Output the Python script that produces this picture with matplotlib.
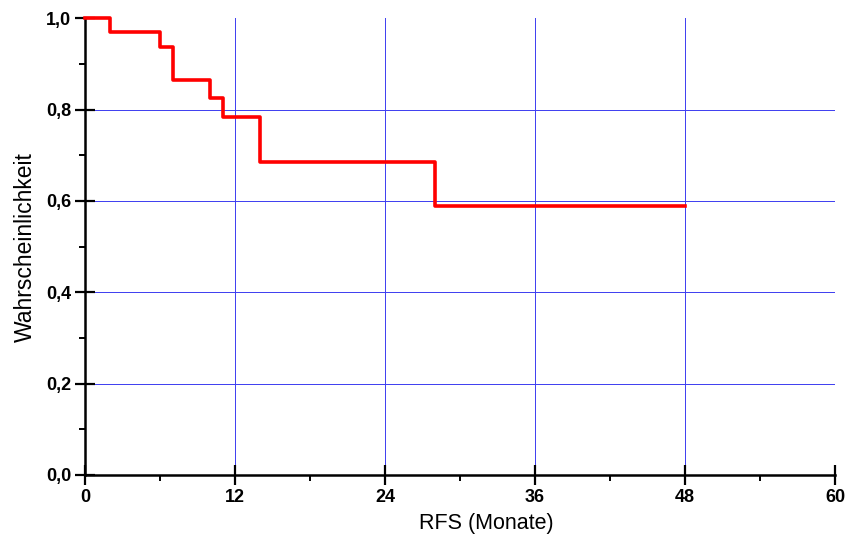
import matplotlib
matplotlib.use("Agg")
import matplotlib.pyplot as plt
from matplotlib.ticker import MultipleLocator, FuncFormatter

# Kaplan-Meier steps
months = [0, 2, 6, 7, 10, 11, 14, 28, 48]
survival = [1.0, 0.969, 0.9375, 0.865, 0.826, 0.784, 0.686, 0.589, 0.589]

x_ticks = [0, 12, 24, 36, 48, 60]
y_ticks = [0.0, 0.2, 0.4, 0.6, 0.8, 1.0]

plt.rcParams["font.family"] = ["Liberation Sans", "DejaVu Sans"]

fig = plt.figure(figsize=(8.46, 5.37), dpi=100)
ax = fig.add_axes([85 / 846, 1 - 475 / 537, 750 / 846, (475 - 18.3) / 537])

ax.step(months, survival, where="post", color="red", lw=2.6, clip_on=False, zorder=3)

ax.set_xlim(0, 60)
ax.set_ylim(0, 1.0)
ax.set_xticks(x_ticks)
ax.set_yticks(y_ticks)
ax.xaxis.set_minor_locator(MultipleLocator(6))
ax.yaxis.set_minor_locator(MultipleLocator(0.1))
ax.yaxis.set_major_formatter(FuncFormatter(lambda v, p: f"{v:.1f}".replace(".", ",")))

ax.grid(True, which="major", color="#3c3cf0", lw=0.7)
# no grid line on the outer edges
ax.xaxis.get_gridlines()[-1].set_visible(False)
ax.xaxis.get_gridlines()[0].set_visible(False)
ax.yaxis.get_gridlines()[-1].set_visible(False)
ax.yaxis.get_gridlines()[0].set_visible(False)

for s in ["top", "right"]:
    ax.spines[s].set_visible(False)
for s in ["left", "bottom"]:
    ax.spines[s].set_linewidth(1.8)

ax.tick_params(which="major", direction="inout", length=14, width=1.6, pad=3,
               labelsize=13)
ax.tick_params(which="minor", direction="out", length=4.5, width=1.4)
for lab in ax.get_xticklabels() + ax.get_yticklabels():
    lab.set_fontweight("bold")

ax.set_xlabel("RFS (Monate)", fontsize=15.5)
ax.set_ylabel("Wahrscheinlichkeit", fontsize=16.5)
ax.xaxis.set_label_coords(0.535, -0.083)
ax.yaxis.set_label_coords(-0.064, 0.5)

fig.savefig("out.png", dpi=100)
